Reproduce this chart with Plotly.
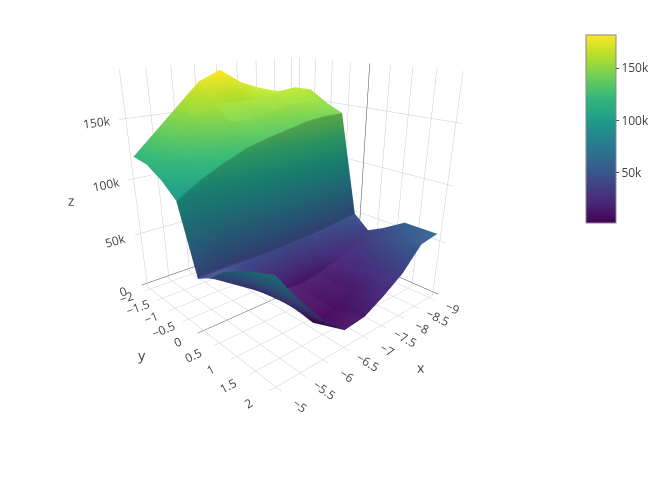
import plotly.graph_objects as go

x_vals = [-9, -8.5, -8, -7.5, -7, -6.5, -6, -5.5, -5]
y_vals = [-2, -1.5, -1, -0.55, -0.05, 0.35, 0.75, 1.25, 2]
z_vals = [
    [160000, 158000, 163000, 170000, 182000, 174000, 156000, 138000, 120000],
    [160000, 160000, 160000, 158000, 157000, 158000, 150000, 134000, 118000],
    [150000, 153000, 153000, 150000, 146000, 146000, 135000, 124000, 110000],
    [143000, 143000, 141000, 137000, 133000, 128000, 120000, 111000, 99000],
    [50000, 48000, 46000, 45000, 44000, 43000, 43000, 43000, 42000],
    [38000, 28000, 20000, 14000, 12000, 14000, 22000, 36000, 50000],
    [46000, 34000, 22000, 13000, 8000, 10000, 24000, 44000, 62000],
    [58000, 44000, 26000, 14000, 6000, 2000, 26000, 48000, 72000],
    [58000, 55000, 36000, 24000, 14000, 12000, 30000, 54000, 82000],
]

fig = go.Figure()

fig.add_trace(
    go.Surface(
        x=x_vals,
        y=y_vals,
        z=z_vals,
        colorscale="Viridis",
        colorbar=dict(
            x=0.844,
            xanchor="left",
            y=1.02,
            yanchor="top",
            len=0.5,
            thickness=30,
            outlinecolor="#888",
            outlinewidth=1,
            ticks="outside",
            ticklen=3,
            tickvals=[50000, 100000, 150000],
            ticktext=["50k", "100k", "150k"],
        ),
    )
)

fig.update_layout(
    template="none",
    width=672,
    height=480,
    margin=dict(l=60, r=10, t=25, b=40),
    scene=dict(
        domain=dict(x=[0, 0.73], y=[0, 1]),
        aspectmode="manual",
        aspectratio=dict(x=1, y=1, z=1.01),
        camera=dict(
            eye=dict(x=1.378, y=1.558, z=0.7),
            center=dict(x=0, y=0, z=-0.23),
        ),
        xaxis=dict(title="x", dtick=0.5),
        yaxis=dict(title="y", dtick=0.5),
        zaxis=dict(title="z", dtick=50000),
    ),
)

fig.write_html("out.html")
